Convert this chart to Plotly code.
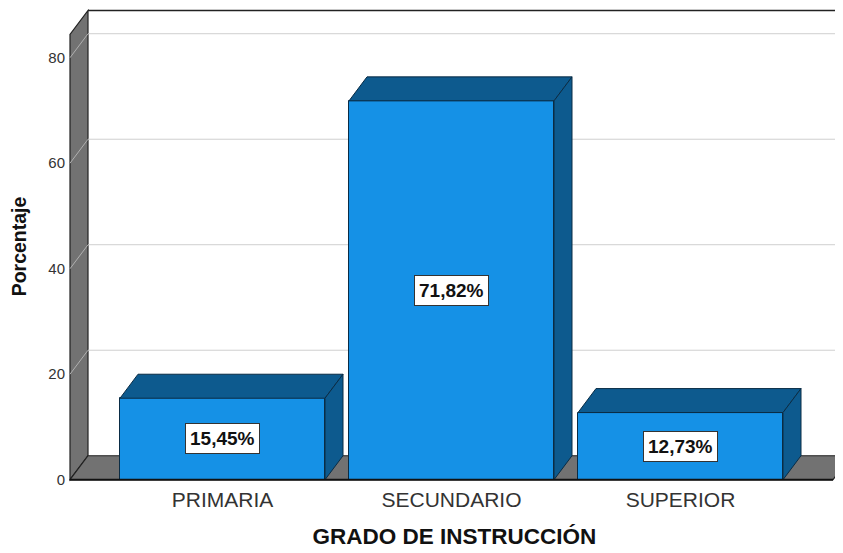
import plotly.graph_objects as go

categories = ["PRIMARIA", "SECUNDARIO", "SUPERIOR"]
values = [15.45, 71.82, 12.73]
labels = ["15,45%", "71,82%", "12,73%"]
y_ticks = [0, 20, 40, 60, 80]

# geometry (data units)
PX_X = 229.0      # pixels per category
PX_Y = 5.275      # pixels per percentage point
DX = 18 / PX_X    # depth offset
DY = 24 / PX_Y
BW = 205 / PX_X   # bar width
XW = (70 - 222.5) / PX_X    # front-left of chart box
XE = (833 - 222.5) / PX_X   # front-right of chart box
WALL_TOP = 84.4
X0 = (66 - 222.5) / PX_X
X1 = X0 + 777 / PX_X
Y0 = -1
Y1 = Y0 + 477 / PX_Y

FRONT = "#1591e6"
DARK = "#0d5a8e"
EDGE = "#0a2c45"
WALL = "#727272"
GRID = "#cfcfcf"
FONT = "Liberation Sans, Arial, sans-serif"

fig = go.Figure()

shapes = []
# left wall
shapes.append(dict(type="path", xref="x", yref="y", layer="below",
                   path=f"M {XW},0 L {XW+DX},{DY} L {XW+DX},{WALL_TOP+DY} L {XW},{WALL_TOP} Z",
                   fillcolor=WALL, line=dict(color="#222222", width=1.2)))
# floor
shapes.append(dict(type="path", xref="x", yref="y", layer="below",
                   path=f"M {XW},0 L {XW+DX},{DY} L {XE+DX},{DY} L {XE},0 Z",
                   fillcolor=WALL, line=dict(color="#222222", width=1.2)))
# grid lines
for v in y_ticks[1:]:
    shapes.append(dict(type="line", xref="x", yref="y", layer="below",
                       x0=XW+DX, x1=X1, y0=v+DY, y1=v+DY,
                       line=dict(color=GRID, width=1)))
    shapes.append(dict(type="line", xref="x", yref="y", layer="below",
                       x0=XW, x1=XW+DX, y0=v, y1=v+DY,
                       line=dict(color="#b0b0b0", width=1)))
# back wall top edge
shapes.append(dict(type="line", xref="x", yref="y", layer="below",
                   x0=XW+DX, x1=X1, y0=WALL_TOP+DY, y1=WALL_TOP+DY,
                   line=dict(color="#222222", width=1.5)))
# front floor edge
shapes.append(dict(type="line", xref="x", yref="y", layer="above",
                   x0=XW, x1=XE, y0=0, y1=0,
                   line=dict(color="#111111", width=2)))

xs = list(range(len(categories)))

fig.add_trace(go.Bar(x=xs, y=values, width=BW, marker=dict(color=FRONT, line=dict(color=EDGE, width=1)),
                     hoverinfo="skip", showlegend=False))

for i, v in enumerate(values):
    a = xs[i] - BW / 2
    b = xs[i] + BW / 2
    # top face
    fig.add_trace(go.Scatter(x=[a, a+DX, b+DX, b, a], y=[v, v+DY, v+DY, v, v],
                             fill="toself", fillcolor=DARK, mode="lines",
                             line=dict(color=EDGE, width=1), hoverinfo="skip", showlegend=False))
    # side face
    fig.add_trace(go.Scatter(x=[b, b+DX, b+DX, b, b], y=[0, DY, v+DY, v, 0],
                             fill="toself", fillcolor=DARK, mode="lines",
                             line=dict(color=EDGE, width=1), hoverinfo="skip", showlegend=False))

annotations = []
for i, v in enumerate(values):
    annotations.append(dict(x=xs[i], y=v/2, xref="x", yref="y", text=f"<b>{labels[i]}</b>",
                            showarrow=False, bgcolor="white", bordercolor="#333333", borderwidth=1,
                            borderpad=4, font=dict(family=FONT, size=19, color="#111111")))

# page body has an 8px default margin: figure is drawn from (8, 8)
fig.update_layout(
    width=835, height=545,
    margin=dict(l=58, r=0, t=0, b=68, autoexpand=False),
    paper_bgcolor="white", plot_bgcolor="white",
    shapes=shapes, annotations=annotations,
    font=dict(family=FONT, color="#222222"),
    xaxis=dict(range=[X0, X1], tickvals=xs, ticktext=categories, showgrid=False, zeroline=False,
               showline=False, ticks="", tickfont=dict(size=21, color="#333333"), automargin=False,
               title=dict(text="<b>GRADO DE INSTRUCCIÓN</b>", font=dict(size=22.5, color="#111111"), standoff=18)),
    yaxis=dict(range=[Y0, Y1], tickvals=y_ticks, ticktext=[str(t) for t in y_ticks], showgrid=False,
               zeroline=False, showline=False, ticks="", tickfont=dict(size=15, color="#333333"), automargin=False,
               title=dict(text="<b>Porcentaje</b>", font=dict(size=19.5, color="#111111"), standoff=17)),
    bargap=0,
)

fig.write_html("out.html")
